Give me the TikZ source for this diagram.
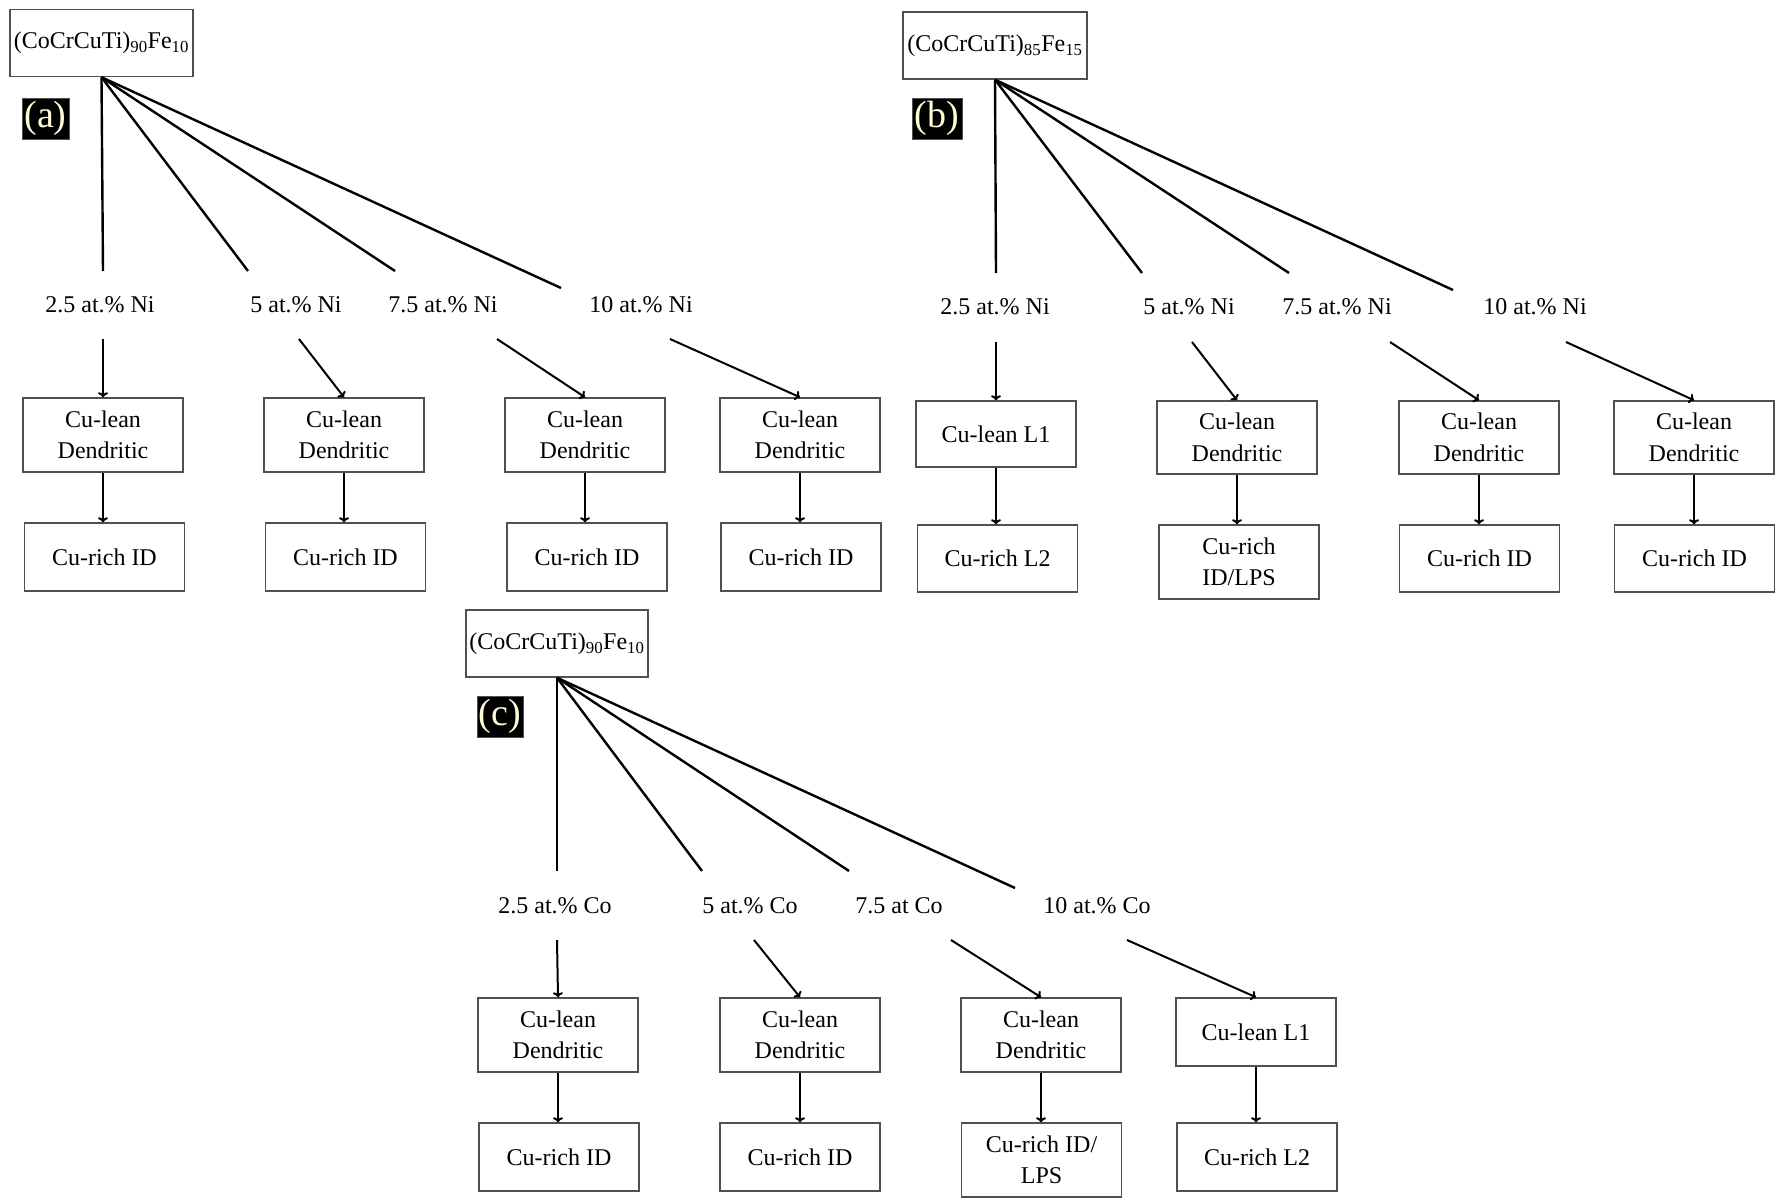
\documentclass[tikz,border=0pt]{standalone}
\usepackage{fontspec}
\setmainfont{Liberation Serif}
\usetikzlibrary{arrows.meta}
\definecolor{boxline}{RGB}{80,80,80}
\definecolor{cream}{RGB}{255,250,215}
\begin{document}
\begin{tikzpicture}[x=1pt,y=-1pt,
  phase/.style={draw=boxline, line width=1.5pt, fill=white, align=center, inner sep=0pt,
    minimum width=160pt, font=\fontsize{24}{31.5}\selectfont},
  alloy/.style={draw=boxline, line width=1.5pt, fill=white, inner sep=0pt,
    minimum height=67pt, font=\fontsize{24}{29}\selectfont},
  tag/.style={fill=black, draw=boxline, line width=0.6pt, text=cream, inner sep=0pt,
    minimum width=47pt, minimum height=41pt, font=\fontsize{38}{40}\selectfont},
  cond/.style={inner sep=0pt, font=\fontsize{24}{29}\selectfont},
  branch/.style={line width=2.4pt},
  flow/.style={line width=2pt, -{To[length=5pt,width=10pt]}}
]
\useasboundingbox (0,0) rectangle (1779,1201);

% ================= Panel (a) =================
\node[alloy, minimum width=183pt] (aT) at (101.5,43) {(CoCrCuTi)\textsubscript{90}Fe\textsubscript{10}};
\node[tag] (aTag) at (45.5,118.5) {(a)};
\node[cond] (aC1) at (100,305) {2.5 at.\% Ni};
\node[cond] (aC2) at (296,305) {5 at.\% Ni};
\node[cond] (aC3) at (443,305) {7.5 at.\% Ni};
\node[cond] (aC4) at (641,305) {10 at.\% Ni};
\coordinate (aE1) at (103,271);
\coordinate (aE2) at (248,271);
\coordinate (aE3) at (395,271);
\coordinate (aE4) at (561,288);
\coordinate (aS1) at (103,339);
\coordinate (aS2) at (299,339);
\coordinate (aS3) at (497,339);
\coordinate (aS4) at (670,339);
\node[phase, minimum height=74pt] (aL1) at (103,435) {Cu-lean\\Dendritic};
\node[phase, minimum height=74pt] (aL2) at (344,435) {Cu-lean\\Dendritic};
\node[phase, minimum height=74pt] (aL3) at (585,435) {Cu-lean\\Dendritic};
\node[phase, minimum height=74pt] (aL4) at (800,435) {Cu-lean\\Dendritic};
\node[phase, minimum height=68pt] (aR1) at (104.5,557) {Cu-rich ID};
\node[phase, minimum height=68pt] (aR2) at (345.5,557) {Cu-rich ID};
\node[phase, minimum height=68pt] (aR3) at (587,557) {Cu-rich ID};
\node[phase, minimum height=68pt] (aR4) at (801,557) {Cu-rich ID};
\foreach \i in {1,...,4}{
  \draw[branch] (aT.south) -- (aE\i);
  \draw[flow] (aS\i) -- (aL\i.north);
  \draw[flow] (aL\i.south) -- (aL\i.south |- aR\i.north);
}

% ================= Panel (b) =================
\node[alloy, minimum width=184pt] (bT) at (995,45.5) {(CoCrCuTi)\textsubscript{85}Fe\textsubscript{15}};
\node[tag, minimum width=50pt] (bTag) at (937,118.5) {(b)};
\node[cond] (bC1) at (995,307) {2.5 at.\% Ni};
\node[cond] (bC2) at (1189,307) {5 at.\% Ni};
\node[cond] (bC3) at (1337,307) {7.5 at.\% Ni};
\node[cond] (bC4) at (1535,307) {10 at.\% Ni};
\coordinate (bE1) at (996,273);
\coordinate (bE2) at (1142,273);
\coordinate (bE3) at (1289,273);
\coordinate (bE4) at (1453,290);
\coordinate (bS1) at (996,342);
\coordinate (bS2) at (1192,342);
\coordinate (bS3) at (1390,342);
\coordinate (bS4) at (1566,342);
\node[phase, minimum height=66pt] (bL1) at (996,434) {Cu-lean L1};
\node[phase, minimum height=73pt] (bL2) at (1237,437.5) {Cu-lean\\Dendritic};
\node[phase, minimum height=73pt] (bL3) at (1479,437.5) {Cu-lean\\Dendritic};
\node[phase, minimum height=73pt] (bL4) at (1694,437.5) {Cu-lean\\Dendritic};
\node[phase, minimum height=67pt] (bR1) at (997.5,558.5) {Cu-rich L2};
\node[phase, minimum height=74pt] (bR2) at (1239,562) {Cu-rich\\ID/LPS};
\node[phase, minimum height=67pt] (bR3) at (1479.5,558.5) {Cu-rich ID};
\node[phase, minimum height=67pt] (bR4) at (1694.5,558.5) {Cu-rich ID};
\foreach \i in {1,...,4}{
  \draw[branch] (bT.south) -- (bE\i);
  \draw[flow] (bS\i) -- (bL\i.north);
  \draw[flow] (bL\i.south) -- (bL\i.south |- bR\i.north);
}

% ================= Panel (c) =================
\node[alloy, minimum width=182pt] (cT) at (557,643.5) {(CoCrCuTi)\textsubscript{90}Fe\textsubscript{10}};
\node[tag, minimum width=46pt] (cTag) at (500,716.5) {(c)};
\node[cond] (cC1) at (555,906) {2.5 at.\% Co};
\node[cond] (cC2) at (750,906) {5 at.\% Co};
\node[cond] (cC3) at (899,906) {7.5 at Co};
\node[cond] (cC4) at (1097,906) {10 at.\% Co};
\coordinate (cE1) at (557,871);
\coordinate (cE2) at (702,871);
\coordinate (cE3) at (849,871);
\coordinate (cE4) at (1015,888);
\coordinate (cS1) at (557,940);
\coordinate (cS2) at (754,940);
\coordinate (cS3) at (951,940);
\coordinate (cS4) at (1127,940);
\node[phase, minimum height=74pt] (cL1) at (558,1035) {Cu-lean\\Dendritic};
\node[phase, minimum height=74pt] (cL2) at (800,1035) {Cu-lean\\Dendritic};
\node[phase, minimum height=74pt] (cL3) at (1041,1035) {Cu-lean\\Dendritic};
\node[phase, minimum height=68pt] (cL4) at (1256,1032) {Cu-lean L1};
\node[phase, minimum height=68pt] (cR1) at (559,1157) {Cu-rich ID};
\node[phase, minimum height=68pt] (cR2) at (800,1157) {Cu-rich ID};
\node[phase, minimum height=74pt] (cR3) at (1041.5,1160) {Cu-rich ID/\\LPS};
\node[phase, minimum height=68pt] (cR4) at (1257,1157) {Cu-rich L2};
\foreach \i in {1,...,4}{
  \draw[branch] (cT.south) -- (cE\i);
  \draw[flow] (cS\i) -- (cL\i.north);
  \draw[flow] (cL\i.south) -- (cL\i.south |- cR\i.north);
}
\end{tikzpicture}
\end{document}
